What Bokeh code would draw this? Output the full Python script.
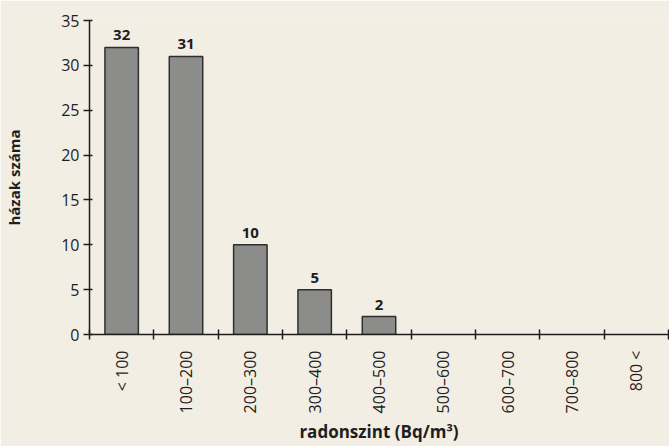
import math
from bokeh.plotting import figure
from bokeh.models import Range1d, FixedTicker, ColumnDataSource
from bokeh.core.properties import value
from bokeh.embed import file_html
from bokeh.resources import INLINE

categories = ["< 100", "100–200", "200–300", "300–400", "400–500",
              "500–600", "600–700", "700–800", "800 <"]
counts = [32, 31, 10, 5, 2, 0, 0, 0, 0]
y_ticks = [0, 5, 10, 15, 20, 25, 30, 35]

BG = "#f3eee4"
FONT = "Open Sans"

n = len(categories)
centers = [i + 0.5 for i in range(n)]
bounds = [float(i) for i in range(n + 1)]

bar_idx = [i for i, c in enumerate(counts) if c > 0]
src = ColumnDataSource(dict(
    x=[centers[i] for i in bar_idx],
    top=[counts[i] for i in bar_idx],
    lbl=[str(counts[i]) for i in bar_idx],
))

p = figure(width=669, height=446, output_backend="svg", toolbar_location=None,
           x_range=Range1d(0, n), y_range=Range1d(0, 35),
           min_border_left=89, min_border_right=1, min_border_top=20,
           min_border_bottom=2)
p.background_fill_color = BG
p.border_fill_color = BG
p.outline_line_color = None
p.grid.visible = False

p.vbar(x="x", top="top", width=0.52, bottom=0, source=src,
       fill_color="#8c8c8a", line_color="#2e2e2e", line_width=1.5)
p.text(x="x", y="top", text="lbl", source=src, text_align="center",
       text_baseline="bottom", y_offset=-7, text_font=value(FONT),
       text_font_style="bold", text_font_size="15px", text_color="#1e1e1e")

xa = p.xaxis[0]
xa.ticker = FixedTicker(ticks=centers, minor_ticks=bounds)
xa.major_label_overrides = {c: lab for c, lab in zip(centers, categories)}
xa.major_label_orientation = math.pi / 2
xa.major_tick_in = 0
xa.major_tick_out = 0
xa.minor_tick_in = 5
xa.minor_tick_out = 5
xa.minor_tick_line_color = "#1e1e1e"
xa.minor_tick_line_width = 1.5
xa.axis_line_color = "#1e1e1e"
xa.axis_line_width = 1.5
xa.major_label_standoff = 11
xa.major_label_text_font = FONT
xa.major_label_text_font_size = "16px"
xa.major_label_text_color = "#1e1e1e"
xa.axis_label = "radonszint (Bq/m³)"
xa.axis_label_text_font = FONT
xa.axis_label_text_font_style = "bold"
xa.axis_label_text_font_size = "17px"
xa.axis_label_text_color = "#1e1e1e"
xa.axis_label_standoff = 4

ya = p.yaxis[0]
ya.ticker = FixedTicker(ticks=y_ticks)
ya.major_tick_in = 3
ya.major_tick_out = 6
ya.minor_tick_line_color = None
ya.major_tick_line_color = "#1e1e1e"
ya.major_tick_line_width = 1.5
ya.axis_line_color = "#1e1e1e"
ya.axis_line_width = 1.5
ya.major_label_standoff = 4
ya.major_label_text_font = FONT
ya.major_label_text_font_size = "16px"
ya.major_label_text_color = "#1e1e1e"
ya.axis_label = "házak száma"
ya.axis_label_text_font = FONT
ya.axis_label_text_font_style = "bold"
ya.axis_label_text_font_size = "15px"
ya.axis_label_text_color = "#1e1e1e"
ya.axis_label_standoff = 34

open("out.html", "w").write(file_html(p, INLINE))
